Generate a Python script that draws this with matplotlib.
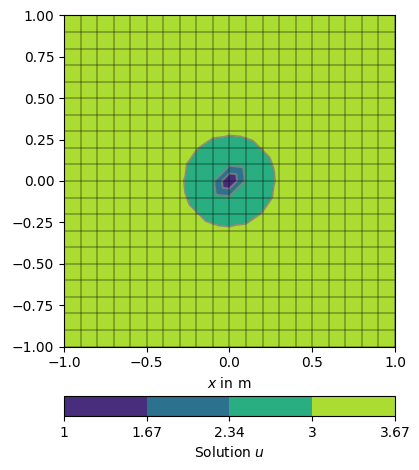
import numpy as np
import matplotlib
matplotlib.use("Agg")
import matplotlib.pyplot as plt
import matplotlib.tri as mtri

# maillage 20 x 20 sur [-1, 1]^2
n_cells = 20
x_nodes = np.linspace(-1.0, 1.0, n_cells + 1)
y_nodes = np.linspace(-1.0, 1.0, n_cells + 1)

# valeurs nodales, autour du centre (x, y de -0.3 a 0.3)
u_patch = np.array([
    [3.21, 3.13, 3.07, 3.05, 3.07, 3.13, 3.21],
    [3.13, 3.02, 2.91, 2.86, 2.91, 3.02, 3.13],
    [3.07, 2.91, 2.62, 2.45, 2.62, 2.91, 3.07],
    [3.05, 2.86, 2.45, 1.00, 2.45, 2.86, 3.05],
    [3.07, 2.91, 2.62, 2.45, 2.62, 2.91, 3.07],
    [3.13, 3.02, 2.91, 2.86, 2.91, 3.02, 3.13],
    [3.21, 3.13, 3.07, 3.05, 3.07, 3.13, 3.21],
])[::-1]  # ligne 0 = y le plus bas
u_far = 3.40  # valeur loin de la source (bande superieure)

levels = [1.0, 1.6675, 2.335, 3.0025, 3.67]
tick_labels = ["1", "1.67", "2.34", "3", "3.67"]

# champ complet
U = np.full((n_cells + 1, n_cells + 1), u_far)
c = n_cells // 2
h = u_patch.shape[0] // 2
U[c - h:c + h + 1, c - h:c + h + 1] = u_patch

X, Y = np.meshgrid(x_nodes, y_nodes)
m = n_cells + 1
tris = []
for j in range(n_cells):
    for i in range(n_cells):
        a = j * m + i
        b = a + 1
        cc = a + m + 1
        d = a + m
        tris.append([a, b, cc])
        tris.append([a, cc, d])
tri = mtri.Triangulation(X.ravel(), Y.ravel(), np.array(tris))

fig = plt.figure(figsize=(4.19, 4.70), dpi=100)
ax = fig.add_axes([0.1527, 0.2617, 0.790, 0.7064])
cax = fig.add_axes([0.1527, 0.1149, 0.790, 0.0426])

cs = ax.tricontourf(tri, U.ravel(), levels=levels, cmap="viridis", vmin=1.0, vmax=3.67)
ax.tricontour(tri, U.ravel(), levels=levels[1:-1], colors="gray", linewidths=1.5, alpha=0.8)

# lignes du maillage
for xv in x_nodes:
    ax.axvline(xv, color="black", alpha=0.3, lw=1.2)
for yv in y_nodes:
    ax.axhline(yv, color="black", alpha=0.3, lw=1.2)

ax.set_xlim(-1, 1)
ax.set_ylim(-1, 1)
ax.set_aspect("equal")
ax.set_xlabel("$x$ in m")

cb = fig.colorbar(cs, cax=cax, orientation="horizontal", ticks=levels)
cb.ax.set_xticklabels(tick_labels)
cb.set_label("Solution $u$")

fig.savefig("out.png", dpi=100)
